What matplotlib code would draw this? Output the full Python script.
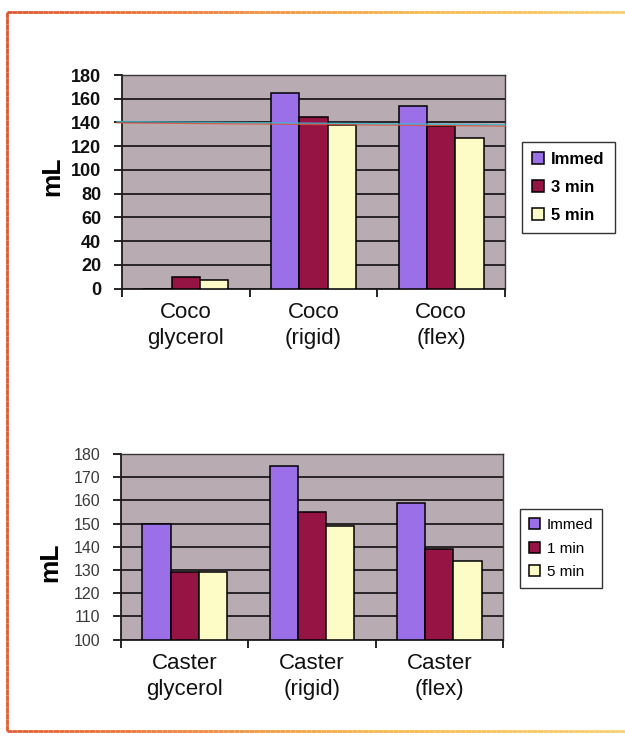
import numpy as np
import matplotlib
matplotlib.use("Agg")
import matplotlib.pyplot as plt
from matplotlib.collections import LineCollection
from matplotlib.colors import LinearSegmentedColormap

plt.rcParams['font.family'] = ['Liberation Sans', 'DejaVu Sans']

# Coconut-oil panel
coco_categories = ["Coco\nglycerol", "Coco\n(rigid)", "Coco\n(flex)"]
coco_series = ["Immed", "3 min", "5 min"]
coco_immed = [0, 165, 154]
coco_3min = [10, 145, 137]
coco_5min = [7, 138, 127]
coco_yticks = [0, 20, 40, 60, 80, 100, 120, 140, 160, 180]

# Castor-oil panel
caster_categories = ["Caster\nglycerol", "Caster\n(rigid)", "Caster\n(flex)"]
caster_series = ["Immed", "1 min", "5 min"]
caster_immed = [150, 175, 159]
caster_1min = [129, 155, 139]
caster_5min = [129, 149, 134]
caster_yticks = [100, 110, 120, 130, 140, 150, 160, 170, 180]

bar_colors = ["#9a6fe8", "#951444", "#fdfcc6"]
plot_bg = "#b8abb1"

W, H = 625, 737
fig = plt.figure(figsize=(W / 100, H / 100), dpi=100)
fig.patch.set_facecolor("white")


def draw_panel(ax, categories, series_names, series_values, yticks, bold, tick_size,
               legend_anchor, label_spacing, legend_size, ylabel_pos):
    x = np.arange(len(categories))
    width = 1 / 4.5
    handles = []
    for i, (name, vals) in enumerate(zip(series_names, series_values)):
        bars = ax.bar(x + (i - 1) * width, np.array(vals) - yticks[0], width=width,
                      bottom=yticks[0], color=bar_colors[i], edgecolor="black",
                      linewidth=1.1, zorder=3, label=name)
        handles.append(bars)
    ax.set_facecolor(plot_bg)
    ax.set_xlim(-0.5, len(categories) - 0.5)
    ax.set_ylim(yticks[0], yticks[-1])
    ax.yaxis.grid(True, color="#1e1a1c", linewidth=1.3, zorder=1)
    ax.set_axisbelow(True)
    for side in ["top", "right"]:
        ax.spines[side].set_color("#3a3638")
        ax.spines[side].set_linewidth(1.0)
    for side in ["left", "bottom"]:
        ax.spines[side].set_color("#1e1a1c")
        ax.spines[side].set_linewidth(1.3)
    weight = "bold" if bold else "normal"
    tick_color = "#111111" if bold else "#3a3a3a"
    ax.set_yticks(yticks)
    ax.set_yticklabels([str(t) for t in yticks], fontsize=tick_size,
                       fontweight=weight, color=tick_color)
    ax.tick_params(axis="y", length=6, width=1.2, pad=9, direction="out")
    # category boundary tick marks
    ax.set_xticks(np.arange(-0.5, len(categories), 1.0), minor=True)
    ax.set_xticks(x)
    ax.set_xticklabels(categories, fontsize=16, linespacing=1.28, color="#111111")
    ax.tick_params(axis="x", which="major", length=0, pad=10)
    ax.tick_params(axis="x", which="minor", length=6, width=1.2, direction="out")
    ax.set_ylabel("mL", fontsize=19, fontweight="bold", va="center")
    ax.yaxis.set_label_coords(ylabel_pos[0] / W, 1 - ylabel_pos[1] / H,
                              transform=fig.transFigure)
    leg = fig.legend(handles=handles, labels=series_names, loc="upper left",
                     bbox_to_anchor=legend_anchor, frameon=True, fancybox=False,
                     edgecolor="#333333", framealpha=1, handlelength=0.7,
                     handleheight=0.7, handletextpad=0.45, labelspacing=label_spacing,
                     borderpad=0.6, borderaxespad=0,
                     prop={"size": legend_size, "weight": weight})
    leg.get_frame().set_linewidth(1.0)
    return ax


ax1 = fig.add_axes([122 / W, 1 - 288.5 / H, 383 / W, 213.5 / H])
draw_panel(ax1, coco_categories, coco_series, [coco_immed, coco_3min, coco_5min],
           coco_yticks, True, 13, (522 / W, 1 - 142 / H), 0.78, 12, (52, 176))

ax2 = fig.add_axes([121 / W, 1 - 639.5 / H, 382 / W, 185.5 / H])
draw_panel(ax2, caster_categories, caster_series, [caster_immed, caster_1min, caster_5min],
           caster_yticks, False, 11.5, (520 / W, 1 - 509 / H), 0.62, 11, (50, 562))

# faint colour-fringed streak across the upper panel
for dy, c in [(0.0, "#d8563a"), (0.006, "#3fb6cf")]:
    ax1.plot([-0.013, 1.0], [0.776 + dy, 0.761 + dy], transform=ax1.transAxes,
             color=c, linewidth=1.0, alpha=0.85, zorder=4, clip_on=False)

# orange page frame
cmap = LinearSegmentedColormap.from_list("frame", ["#d4482c", "#ee7a3a", "#f6b84a", "#f8d070"])


def frame_line(x0, y0, x1, y1, c0, c1, n=120):
    xs = np.linspace(x0, x1, n + 1)
    ys = np.linspace(y0, y1, n + 1)
    pts = np.column_stack([xs / W, 1 - ys / H]).reshape(-1, 1, 2)
    segs = np.concatenate([pts[:-1], pts[1:]], axis=1)
    lc = LineCollection(segs, colors=cmap(np.linspace(c0, c1, n)), linewidths=2.0,
                        transform=fig.transFigure)
    fig.add_artist(lc)


frame_line(7, 12, 625, 12, 0.1, 0.95)
frame_line(7, 12, 7, 731, 0.1, 0.15)
frame_line(7, 731, 625, 731, 0.15, 1.0)

fig.savefig("out.png", dpi=100)
